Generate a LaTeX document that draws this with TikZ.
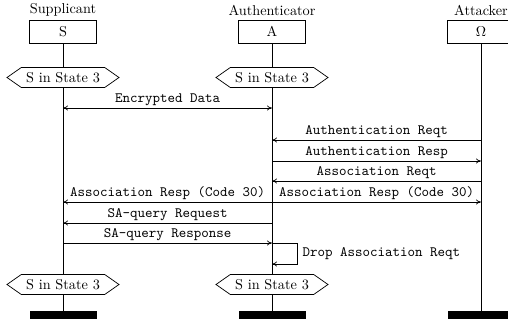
\documentclass[tikz,border=0pt]{standalone}
\usetikzlibrary{shapes.symbols,arrows.meta}
\begin{document}
\begin{tikzpicture}[x=0.7pt,y=-0.7pt,
  line width=0.5pt,
  >={To[length=3.5pt,width=3.5pt]},
  title/.style={inner sep=0pt},
  inst/.style={draw,fill=white,minimum width=46.9pt,minimum height=16.1pt,inner sep=0pt},
  state/.style={draw,fill=white,signal,signal to=east and west,signal pointer angle=70,
    minimum width=78.4pt,minimum height=14pt,inner sep=1pt},
  endbar/.style={fill=black,minimum width=46.9pt,minimum height=5.6pt,inner sep=0pt},
  msg/.style={draw},
  lbl/.style={font=\ttfamily,above,inner sep=1.5pt}]
\useasboundingbox (0,0) rectangle (508,324);
\clip (0,0) rectangle (508,324);

% instance heads
\node[title] (tS) at (63,10) {Supplicant};
\node[title] (tA) at (272,10) {Authenticator};
\node[title] (tO) at (481,10) {Attacker};
\node[inst] (S) at (63,31.5) {S};
\node[inst] (A) at (272,31.5) {A};
\node[inst] (O) at (481,31.5) {$\Omega$};

% instance ends
\node[endbar] (Se) at (63,315) {};
\node[endbar] (Ae) at (272,315) {};
\node[endbar] (Oe) at (481,315) {};

% lifelines
\draw (S.south) -- (Se.north);
\draw (A.south) -- (Ae.north);
\draw (O.south) -- (Oe.north);

% conditions
\node[state] (cS1) at (63,77.5) {S in State 3};
\node[state] (cA1) at (272,77.5) {S in State 3};
\node[state] (cS2) at (63,284.5) {S in State 3};
\node[state] (cA2) at (272,284.5) {S in State 3};

% message points on the lifelines
\coordinate (S1) at (63,108);  \coordinate (A1) at (272,108);
\coordinate (A2) at (272,140); \coordinate (O2) at (481,140);
\coordinate (A3) at (272,161); \coordinate (O3) at (481,161);
\coordinate (A4) at (272,181); \coordinate (O4) at (481,181);
\coordinate (S5) at (63,202);  \coordinate (A5) at (272,202); \coordinate (O5) at (481,202);
\coordinate (S6) at (63,223);  \coordinate (A6) at (272,223);
\coordinate (S7) at (63,243);  \coordinate (A7) at (272,243);
\coordinate (L1) at (297,243); \coordinate (L2) at (297,264);
\coordinate (A8) at (272,264);

% messages
\draw[msg,<->] (S1) -- node[lbl] {Encrypted Data} (A1);
\draw[msg,->] (O2) -- node[lbl] {Authentication Reqt} (A2);
\draw[msg,->] (A3) -- node[lbl] {Authentication Resp} (O3);
\draw[msg,->] (O4) -- node[lbl] {Association Reqt} (A4);
\draw[msg,->] (A5) -- node[lbl] {Association Resp (Code 30)} (O5);
\draw[msg,->] (A5) -- node[lbl] {Association Resp (Code 30)} (S5);
\draw[msg,->] (A6) -- node[lbl] {SA-query Request} (S6);
\draw[msg,->] (S7) -- node[lbl] {SA-query Response} (A7);
% local action: the dropped request loops back to A
\draw[msg,->] (A7) -- (L1) -- (L2) -- (A8);
\node[font=\ttfamily,anchor=west,inner sep=1.5pt] (drop) at (300,253.5) {Drop Association Reqt};
\end{tikzpicture}
\end{document}
